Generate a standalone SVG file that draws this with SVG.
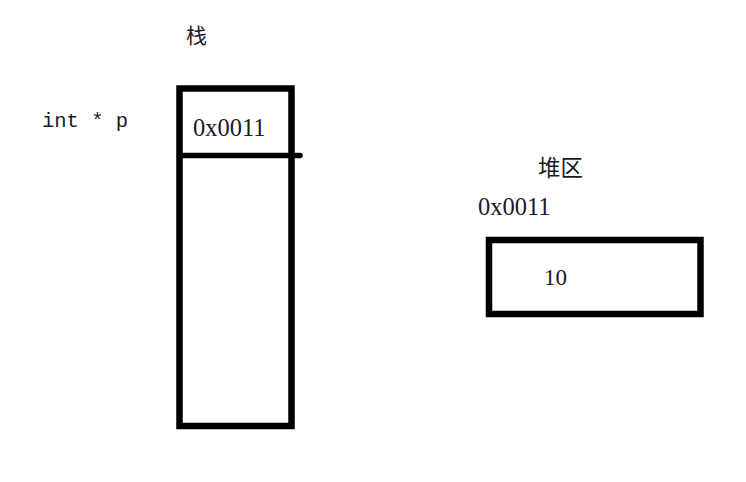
<svg xmlns="http://www.w3.org/2000/svg" width="746" height="482" viewBox="0 0 746 482">
<style>
.box{fill:none;stroke:#000;stroke-width:6.5}
.t{font-family:"Liberation Serif","Noto Sans CJK SC",serif;fill:#1a1a2a}
.m{font-family:"Liberation Mono",monospace;fill:#1a1a2a}
.c{font-family:"Noto Sans CJK SC",sans-serif;fill:#1a1a2a}
</style>
<rect width="746" height="482" fill="#fff"/>
<g id="stack-label"><text class="c" x="186" y="43" font-size="21">栈</text></g>
<g id="var-label"><text class="m" x="42" y="127" font-size="20.5">int * p</text></g>
<g id="stack">
<rect class="box" x="179.5" y="88.5" width="112" height="337.5"/>
<line x1="179.5" y1="155.5" x2="300" y2="155.5" stroke="#000" stroke-width="5.5" stroke-linecap="round"/>
<text class="t" x="193" y="136" font-size="24.5">0x0011</text>
</g>
<g id="heap-label"><text class="c" x="538" y="176" font-size="22.5">堆区</text></g>
<g id="heap-addr"><text class="t" x="478" y="215" font-size="24.5">0x0011</text></g>
<g id="heap">
<rect class="box" x="489" y="240" width="211.5" height="74"/>
<text class="t" x="544" y="285" font-size="23">10</text>
</g>
<g id="connectors"></g>
</svg>
